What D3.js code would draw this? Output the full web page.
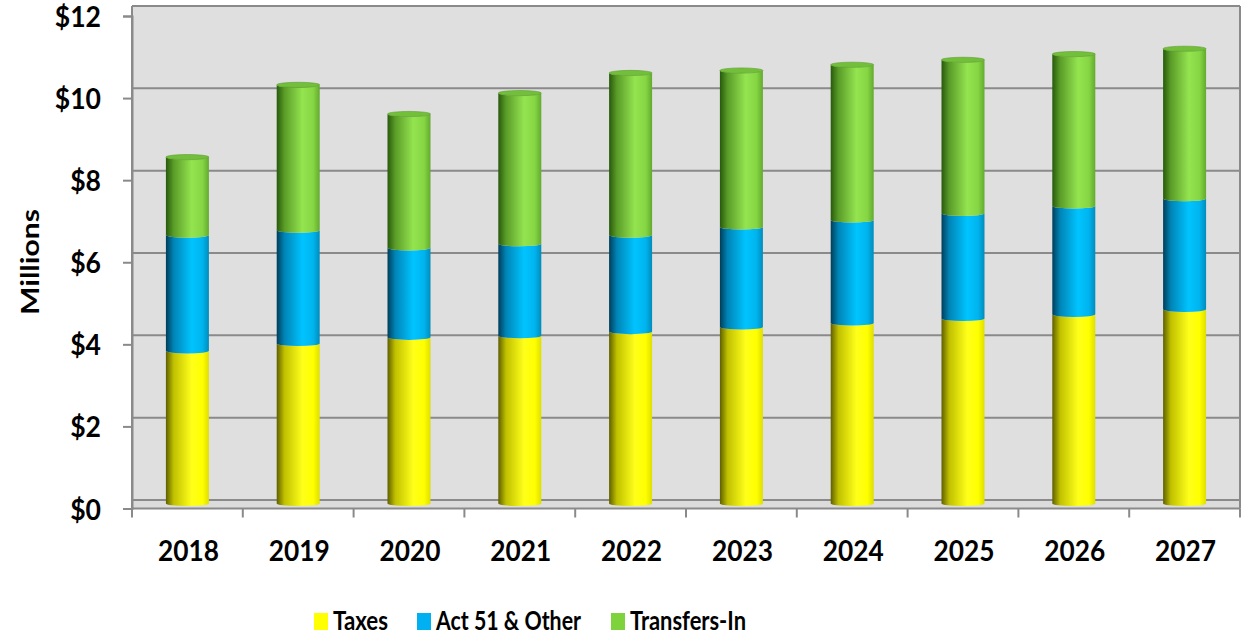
<!DOCTYPE html>
<html>
<head>
<meta charset="utf-8">
<script src="https://cdn.jsdelivr.net/npm/d3@7"></script>
<style>
  html, body { margin: 0; padding: 0; background: #ffffff; }
  svg { display: block; }
  text { font-family: Lato, "Open Sans", sans-serif; font-weight: 700; fill: #000; }
</style>
</head>
<body>
<svg id="chart" width="1245" height="635"></svg>
<script>
// ---- data ----
const years = ["2018","2019","2020","2021","2022","2023","2024","2025","2026","2027"];
const seriesNames = ["Taxes", "Act 51 & Other", "Transfers-In"];
const taxes     = [3.72, 3.90, 4.05, 4.09, 4.19, 4.30, 4.40, 4.51, 4.61, 4.73];
const act51     = [2.82, 2.76, 2.18, 2.24, 2.35, 2.44, 2.51, 2.56, 2.64, 2.70];
const transfers = [1.90, 3.54, 3.26, 3.67, 3.95, 3.81, 3.78, 3.74, 3.70, 3.65];
const yTicks = [0, 2, 4, 6, 8, 10, 12];
const yTickLabels = ["$0", "$2", "$4", "$6", "$8", "$10", "$12"];
const yAxisTitle = "Millions";

// ---- layout ----
const svg = d3.select("#chart");
const left = 132, right = 1240;
const depthDy = 8.5;          // back wall offset (3D depth)
const frontZero = 508.5, frontTop = 16;

const x = d3.scaleBand().domain(years).range([left, right]).paddingInner(0.612).paddingOuter(0.306);
const xCat = d3.scaleBand().domain(years).range([left, right]).padding(0);
const yFront = d3.scaleLinear().domain([0, 12]).range([frontZero, frontTop]);
const yBack  = d3.scaleLinear().domain([0, 12]).range([frontZero - depthDy, frontTop - 10]);
const yBar   = d3.scaleLinear().domain([0, 12]).range([frontZero - 5, frontTop - 5]);

const colors = {
  "Taxes":          {legend: "#ffff00", stops: ["#5f5f00", "#c0c000", "#ffff1a", "#ffff00", "#dede00"], cap: "#f0f000"},
  "Act 51 & Other": {legend: "#00b0f0", stops: ["#003e5a", "#0084b6", "#00c4ff", "#00b4ee", "#008cbc"], cap: "#00aee8"},
  "Transfers-In":   {legend: "#7ed23c", stops: ["#285a0c", "#5a9c28", "#94e450", "#86d644", "#62aa2e"], cap: "#72c03a"}
};

// gradients
const defs = svg.append("defs");
seriesNames.forEach((n, i) => {
  const g = defs.append("linearGradient").attr("id", "grad" + i)
    .attr("x1", 0).attr("x2", 1).attr("y1", 0).attr("y2", 0);
  const offs = [0, 0.18, 0.6, 0.85, 1];
  colors[n].stops.forEach((c, k) => g.append("stop").attr("offset", offs[k]).attr("stop-color", c));
});

// back wall
const gridColor = "#8a8a8a";
svg.append("rect")
  .attr("x", left).attr("y", yBack(12))
  .attr("width", right - left).attr("height", yBack(0) - yBack(12))
  .attr("fill", "#dfdfdf");
// floor
svg.append("path")
  .attr("d", `M${left},${yBack(0)} L${right},${yBack(0)} L${right},${yFront(0)} L${left},${yFront(0)} Z`)
  .attr("fill", "#dcdcdc");

// gridlines on back wall
svg.append("g").selectAll("line").data(yTicks).join("line")
  .attr("x1", left).attr("x2", right)
  .attr("y1", d => yBack(d)).attr("y2", d => yBack(d))
  .attr("stroke", gridColor).attr("stroke-width", 2);
// wall edges
svg.append("line").attr("x1", left).attr("x2", left).attr("y1", yBack(12)).attr("y2", yFront(0))
  .attr("stroke", gridColor).attr("stroke-width", 2);
svg.append("line").attr("x1", right).attr("x2", right).attr("y1", yBack(12)).attr("y2", yFront(0))
  .attr("stroke", gridColor).attr("stroke-width", 2);

// front axes
const yAxis = d3.axisLeft(yFront).tickValues(yTicks).tickSize(9).tickFormat((d, i) => yTickLabels[i]);
const gy = svg.append("g").attr("transform", `translate(${left},0)`).call(yAxis);
gy.select(".domain").attr("stroke", gridColor).attr("stroke-width", 2);
gy.selectAll(".tick line").attr("stroke", gridColor).attr("stroke-width", 2);
gy.selectAll(".tick text")
  .attr("x", -31).attr("dy", null).attr("y", 10.5)
  .style("font-family", "Lato, sans-serif").style("font-weight", 700)
  .style("font-size", "28px").attr("fill", "#000")
  .attr("textLength", (d, i) => yTickLabels[i].length * 15.4)
  .attr("lengthAdjust", "spacingAndGlyphs");

const gx = svg.append("g").attr("transform", `translate(0,${yFront(0)})`);
gx.append("line").attr("x1", left).attr("x2", right).attr("y1", 0).attr("y2", 0)
  .attr("stroke", gridColor).attr("stroke-width", 2);
const boundaries = years.map(y => xCat(y)).concat([right]);
gx.selectAll("line.tk").data(boundaries).join("line").attr("class", "tk")
  .attr("x1", d => d).attr("x2", d => d).attr("y1", 0).attr("y2", 9)
  .attr("stroke", gridColor).attr("stroke-width", 2);
gx.selectAll("text").data(years).join("text")
  .attr("x", d => xCat(d) + xCat.bandwidth() / 2 + 1).attr("y", 52)
  .attr("text-anchor", "middle")
  .style("font-size", "28px")
  .attr("textLength", 61).attr("lengthAdjust", "spacingAndGlyphs")
  .text(d => d);

// ---- stacked cylinders ----
const rows = years.map((yr, i) => ({year: yr, "Taxes": taxes[i], "Act 51 & Other": act51[i], "Transfers-In": transfers[i]}));
const stack = d3.stack().keys(seriesNames)(rows);
const ry = 2.6;

function segPath(x0, x1, yTop, yBot) {
  const rx = (x1 - x0) / 2;
  return `M${x0},${yTop} L${x0},${yBot} A${rx},${ry} 0 0 0 ${x1},${yBot} L${x1},${yTop} A${rx},${ry} 0 0 1 ${x0},${yTop} Z`;
}

const barsG = svg.append("g");
stack.forEach((layer, si) => {
  barsG.append("g").selectAll("path").data(layer).join("path")
    .attr("d", d => segPath(x(d.data.year), x(d.data.year) + x.bandwidth(), yBar(d[1]), yBar(d[0])))
    .attr("fill", `url(#grad${si})`);
});
// top caps
const topLayer = stack[stack.length - 1];
barsG.append("g").selectAll("ellipse").data(topLayer).join("ellipse")
  .attr("cx", d => x(d.data.year) + x.bandwidth() / 2)
  .attr("cy", d => yBar(d[1]))
  .attr("rx", x.bandwidth() / 2).attr("ry", ry)
  .attr("fill", colors["Transfers-In"].cap)
  .attr("stroke", "#5a9a2a").attr("stroke-width", 0.6);

// ---- y axis title ----
svg.append("text")
  .attr("transform", "translate(39,262) rotate(-90)")
  .attr("text-anchor", "middle")
  .style("font-size", "25px")
  .attr("textLength", 106).attr("lengthAdjust", "spacingAndGlyphs")
  .text(yAxisTitle);

// ---- legend ----
const legendX = [314, 417, 611];
const legendW = [55, 145, 116];
const lg = svg.append("g");
seriesNames.forEach((n, i) => {
  lg.append("rect").attr("x", legendX[i]).attr("y", 613).attr("width", 14).attr("height", 17)
    .attr("fill", colors[n].legend);
  lg.append("text").attr("x", legendX[i] + 19).attr("y", 630)
    .style("font-size", "27px")
    .attr("textLength", legendW[i]).attr("lengthAdjust", "spacingAndGlyphs")
    .text(n);
});
</script>
</body>
</html>
